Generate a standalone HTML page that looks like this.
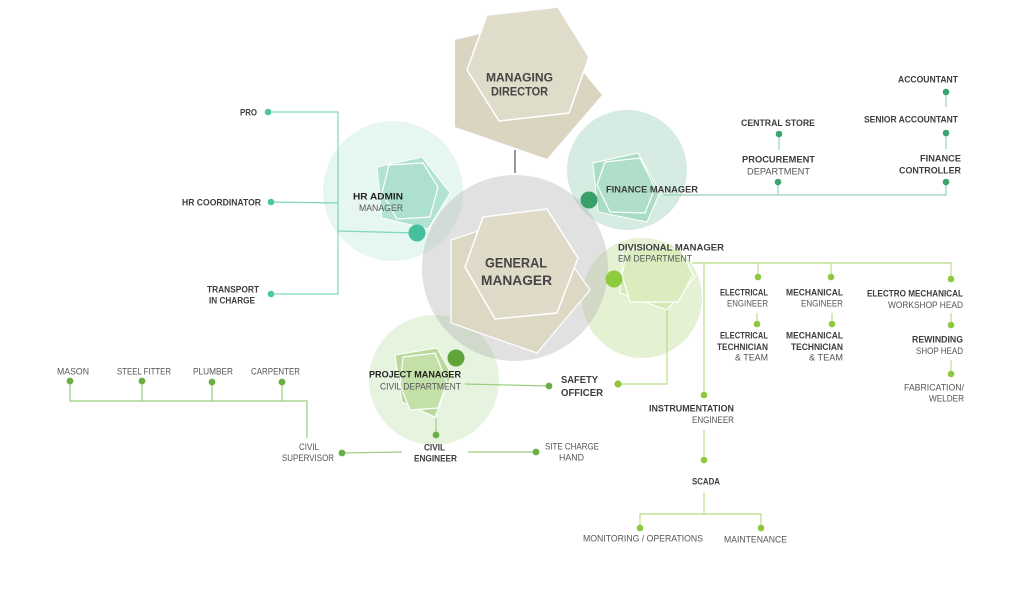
<!DOCTYPE html>
<html>
<head>
<meta charset="utf-8">
<style>
html,body{margin:0;padding:0;background:#fff;}
svg{display:block;}
text{font-family:"Liberation Sans",sans-serif;}
.b{font-weight:bold;fill:#3d3d3d;font-size:9px;}
.r{fill:#555;font-size:9px;}
</style>
</head>
<body>
<svg width="1024" height="590" viewBox="0 0 1024 590" xmlns="http://www.w3.org/2000/svg">
<rect width="1024" height="590" fill="#fff"/>

<!-- circles -->
<circle cx="393" cy="191" r="70" fill="rgb(160,220,200)" fill-opacity="0.26"/>
<circle cx="627" cy="170" r="60" fill="rgb(120,190,155)" fill-opacity="0.3"/>
<circle cx="434" cy="380" r="65" fill="rgb(160,210,130)" fill-opacity="0.26"/>
<circle cx="642" cy="298" r="60" fill="rgb(170,210,110)" fill-opacity="0.3"/>
<circle cx="515" cy="268" r="93" fill="rgb(175,175,175)" fill-opacity="0.38"/>

<!-- Managing Director -->
<polygon points="455,40 540,20 602,95 547,159 455,127" fill="#dad5c1"/>
<polygon points="487,15 558,7 589,57 569,113 499,121 467,70" fill="#e0dcca" stroke="#fff" stroke-width="1.5"/>
<line x1="515" y1="150" x2="515" y2="173" stroke="#555" stroke-width="1.2"/>

<!-- General Manager -->
<polygon points="451,240 535,212 590,290 537,353 451,323" fill="#dcd8c4" stroke="#fff" stroke-width="1.2"/>
<polygon points="483,217 547,209 578,258 557,313 495,319 465,267" fill="#dfdbc8" stroke="#fff" stroke-width="1.5"/>

<!-- HR hex -->
<polygon points="377,167 422,157 450,193 428,229 382,218" fill="#b1e3d3" stroke="#fff" stroke-width="1"/>
<polygon points="389,165 423,163 438,187 430,217 397,219 382,193" fill="#ade0cf" stroke="#fff" stroke-width="1.2"/>

<!-- Finance hex -->
<polygon points="593,163 638,153 660,192 647,222 598,212" fill="#a9dcc4" stroke="#fff" stroke-width="1"/>
<polygon points="605,162 640,158 655,188 645,213 610,212 597,185" fill="#b0dfc9" stroke="#fff" stroke-width="1.2"/>

<!-- Divisional hex -->
<polygon points="623,250 672,244 695,277 667,310 620,293" fill="#d6eab3" stroke="#fff" stroke-width="1"/>
<polygon points="627,250 680,248 693,275 678,302 630,302 622,275" fill="#dbecbe" stroke="#fff" stroke-width="1.2"/>

<!-- Project hex -->
<polygon points="395,355 437,348 452,375 435,417 402,402" fill="#b8d99a" stroke="#fff" stroke-width="1"/>
<polygon points="403,357 435,353 447,382 438,408 410,410 400,385" fill="#c3e0a8" stroke="#fff" stroke-width="1.2"/>

<!-- HR lines -->
<g stroke="#80d6be" stroke-width="1.2" fill="none">
<polyline points="268,112 338,112 338,294 271,294"/>
<line x1="271" y1="202" x2="338" y2="203"/>
<line x1="338" y1="231" x2="417" y2="233"/>
</g>
<g fill="#4fc6a0">
<circle cx="268" cy="112" r="3.3"/>
<circle cx="271" cy="202" r="3.3"/>
<circle cx="271" cy="294" r="3.3"/>
</g>
<circle cx="417" cy="233" r="8.5" fill="#45bf9c"/>

<!-- Finance lines -->
<g stroke="#95d4b4" stroke-width="1.2" fill="none">
<polyline points="663,195 946,195 946,182"/>
<line x1="778" y1="195" x2="778" y2="182"/>
<line x1="779" y1="134" x2="779" y2="150"/>
<line x1="946" y1="133" x2="946" y2="149"/>
<line x1="946" y1="92" x2="946" y2="107"/>
</g>
<g fill="#3aa56e">
<circle cx="778" cy="182" r="3.3"/>
<circle cx="946" cy="182" r="3.3"/>
<circle cx="779" cy="134" r="3.3"/>
<circle cx="946" cy="133" r="3.3"/>
<circle cx="946" cy="92" r="3.3"/>
</g>
<circle cx="589" cy="200" r="8.5" fill="#3a9e69"/>

<!-- Divisional lines -->
<g stroke="#b6de84" stroke-width="1.2" fill="none">
<line x1="692" y1="263" x2="952" y2="263"/>
<line x1="704" y1="263" x2="704" y2="395"/>
<line x1="758" y1="263" x2="758" y2="277"/>
<line x1="831" y1="263" x2="831" y2="277"/>
<line x1="951" y1="263" x2="951" y2="279"/>
<line x1="757" y1="313" x2="757" y2="324"/>
<line x1="832" y1="313" x2="832" y2="324"/>
<line x1="951" y1="313" x2="951" y2="325"/>
<line x1="951" y1="360" x2="951" y2="374"/>
<line x1="704" y1="430" x2="704" y2="460"/>
<line x1="704" y1="493" x2="704" y2="514"/>
<polyline points="640,528 640,514 761,514 761,528"/>
<polyline points="667,310 667,384 618,384"/>
</g>
<g fill="#8dc83f">
<circle cx="704" cy="395" r="3.3"/>
<circle cx="758" cy="277" r="3.3"/>
<circle cx="831" cy="277" r="3.3"/>
<circle cx="951" cy="279" r="3.3"/>
<circle cx="757" cy="324" r="3.3"/>
<circle cx="832" cy="324" r="3.3"/>
<circle cx="951" cy="325" r="3.3"/>
<circle cx="951" cy="374" r="3.3"/>
<circle cx="704" cy="460" r="3.3"/>
<circle cx="640" cy="528" r="3.3"/>
<circle cx="761" cy="528" r="3.3"/>
<circle cx="618" cy="384" r="3.6"/>
</g>
<circle cx="614" cy="279" r="8.5" fill="#8fcb3e"/>

<!-- Project lines -->
<g stroke="#9acd7c" stroke-width="1.2" fill="none">
<line x1="465" y1="384" x2="549" y2="386"/>
<line x1="436" y1="418" x2="436" y2="435"/>
<line x1="402" y1="452" x2="342" y2="453"/>
<line x1="468" y1="452" x2="536" y2="452"/>
<polyline points="70,381 70,401 307,401 307,438"/>
<line x1="142" y1="381" x2="142" y2="401"/>
<line x1="212" y1="382" x2="212" y2="401"/>
<line x1="282" y1="382" x2="282" y2="401"/>
</g>
<g fill="#6aae46">
<circle cx="549" cy="386" r="3.4"/>
<circle cx="436" cy="435" r="3.4"/>
<circle cx="342" cy="453" r="3.4"/>
<circle cx="536" cy="452" r="3.4"/>
<circle cx="70" cy="381" r="3.4"/>
<circle cx="142" cy="381" r="3.4"/>
<circle cx="212" cy="382" r="3.4"/>
<circle cx="282" cy="382" r="3.4"/>
</g>
<circle cx="456" cy="358" r="8.5" fill="#5fa53a"/>

<!-- Main labels -->
<text x="486" y="81.5" font-size="12" font-weight="bold" fill="#444" textLength="67" lengthAdjust="spacingAndGlyphs">MANAGING</text>
<text x="491" y="95.5" font-size="12" font-weight="bold" fill="#444" textLength="57" lengthAdjust="spacingAndGlyphs">DIRECTOR</text>
<text x="485" y="267.5" font-size="13.5" font-weight="bold" fill="#444" textLength="62" lengthAdjust="spacingAndGlyphs">GENERAL</text>
<text x="481" y="285" font-size="13.5" font-weight="bold" fill="#444" textLength="71" lengthAdjust="spacingAndGlyphs">MANAGER</text>

<text class="b" x="353" y="199.5" font-size="9.5" textLength="50" lengthAdjust="spacingAndGlyphs" style="fill:#222">HR ADMIN</text>
<text class="r" x="359" y="211" textLength="44" lengthAdjust="spacingAndGlyphs">MANAGER</text>
<text class="b" x="606" y="192.5" textLength="92" lengthAdjust="spacingAndGlyphs">FINANCE MANAGER</text>
<text class="b" x="618" y="250.5" textLength="106" lengthAdjust="spacingAndGlyphs">DIVISIONAL MANAGER</text>
<text class="r" x="618" y="261.5" textLength="74" lengthAdjust="spacingAndGlyphs">EM DEPARTMENT</text>
<text class="b" x="369" y="377.5" textLength="92" lengthAdjust="spacingAndGlyphs" style="fill:#222">PROJECT MANAGER</text>
<text class="r" x="380" y="389.5" textLength="81" lengthAdjust="spacingAndGlyphs">CIVIL DEPARTMENT</text>
<text class="b" x="561" y="383" font-size="10.5" style="font-size:10.5px" textLength="37" lengthAdjust="spacingAndGlyphs">SAFETY</text>
<text class="b" x="561" y="396" style="font-size:10.5px" textLength="42" lengthAdjust="spacingAndGlyphs">OFFICER</text>

<!-- HR branch -->
<text class="b" x="240" y="115.5" textLength="17" lengthAdjust="spacingAndGlyphs">PRO</text>
<text class="b" x="182" y="205.5" textLength="79" lengthAdjust="spacingAndGlyphs">HR COORDINATOR</text>
<text class="b" x="207" y="292.5" textLength="52" lengthAdjust="spacingAndGlyphs">TRANSPORT</text>
<text class="b" x="209" y="303.5" textLength="46" lengthAdjust="spacingAndGlyphs">IN CHARGE</text>

<!-- Finance branch -->
<text class="b" x="898" y="82.5" textLength="60" lengthAdjust="spacingAndGlyphs">ACCOUNTANT</text>
<text class="b" x="864" y="122.5" textLength="94" lengthAdjust="spacingAndGlyphs">SENIOR ACCOUNTANT</text>
<text class="b" x="920" y="161.5" textLength="41" lengthAdjust="spacingAndGlyphs">FINANCE</text>
<text class="b" x="899" y="173.5" textLength="62" lengthAdjust="spacingAndGlyphs">CONTROLLER</text>
<text class="b" x="741" y="126" textLength="74" lengthAdjust="spacingAndGlyphs">CENTRAL STORE</text>
<text class="b" x="742" y="162.5" textLength="73" lengthAdjust="spacingAndGlyphs">PROCUREMENT</text>
<text class="r" x="747" y="174.5" textLength="63" lengthAdjust="spacingAndGlyphs">DEPARTMENT</text>

<!-- Divisional branch -->
<text class="b" x="720" y="295.5" textLength="48" lengthAdjust="spacingAndGlyphs">ELECTRICAL</text>
<text class="r" x="727" y="306.5" textLength="41" lengthAdjust="spacingAndGlyphs">ENGINEER</text>
<text class="b" x="720" y="338.5" textLength="48" lengthAdjust="spacingAndGlyphs">ELECTRICAL</text>
<text class="b" x="717" y="350" textLength="51" lengthAdjust="spacingAndGlyphs">TECHNICIAN</text>
<text class="r" x="735" y="360.5" textLength="33" lengthAdjust="spacingAndGlyphs">&amp; TEAM</text>
<text class="b" x="786" y="295.5" textLength="57" lengthAdjust="spacingAndGlyphs">MECHANICAL</text>
<text class="r" x="801" y="306.5" textLength="42" lengthAdjust="spacingAndGlyphs">ENGINEER</text>
<text class="b" x="786" y="338.5" textLength="57" lengthAdjust="spacingAndGlyphs">MECHANICAL</text>
<text class="b" x="791" y="350" textLength="52" lengthAdjust="spacingAndGlyphs">TECHNICIAN</text>
<text class="r" x="809" y="360.5" textLength="34" lengthAdjust="spacingAndGlyphs">&amp; TEAM</text>
<text class="b" x="867" y="296.5" textLength="96" lengthAdjust="spacingAndGlyphs">ELECTRO MECHANICAL</text>
<text class="r" x="888" y="308" textLength="75" lengthAdjust="spacingAndGlyphs">WORKSHOP HEAD</text>
<text class="b" x="912" y="342.5" textLength="51" lengthAdjust="spacingAndGlyphs">REWINDING</text>
<text class="r" x="916" y="354" textLength="47" lengthAdjust="spacingAndGlyphs">SHOP HEAD</text>
<text class="r" x="904" y="390.5" textLength="60" lengthAdjust="spacingAndGlyphs">FABRICATION/</text>
<text class="r" x="929" y="401.5" textLength="35" lengthAdjust="spacingAndGlyphs">WELDER</text>
<text class="b" x="649" y="411.5" textLength="85" lengthAdjust="spacingAndGlyphs">INSTRUMENTATION</text>
<text class="r" x="692" y="423" textLength="42" lengthAdjust="spacingAndGlyphs">ENGINEER</text>
<text class="b" x="692" y="484.5" textLength="28" lengthAdjust="spacingAndGlyphs">SCADA</text>
<text class="r" x="583" y="541.5" textLength="120" lengthAdjust="spacingAndGlyphs">MONITORING / OPERATIONS</text>
<text class="r" x="724" y="542.5" textLength="63" lengthAdjust="spacingAndGlyphs">MAINTENANCE</text>

<!-- Project branch -->
<text class="r" x="57" y="374.5" textLength="32" lengthAdjust="spacingAndGlyphs">MASON</text>
<text class="r" x="117" y="374.5" textLength="54" lengthAdjust="spacingAndGlyphs">STEEL FITTER</text>
<text class="r" x="193" y="374.5" textLength="40" lengthAdjust="spacingAndGlyphs">PLUMBER</text>
<text class="r" x="251" y="374.5" textLength="49" lengthAdjust="spacingAndGlyphs">CARPENTER</text>
<text class="b" x="424" y="450.5" textLength="21" lengthAdjust="spacingAndGlyphs">CIVIL</text>
<text class="b" x="414" y="461.5" textLength="43" lengthAdjust="spacingAndGlyphs">ENGINEER</text>
<text class="r" x="299" y="450" textLength="20" lengthAdjust="spacingAndGlyphs">CIVIL</text>
<text class="r" x="282" y="461" textLength="52" lengthAdjust="spacingAndGlyphs">SUPERVISOR</text>
<text class="r" x="545" y="449.5" textLength="54" lengthAdjust="spacingAndGlyphs">SITE CHARGE</text>
<text class="r" x="559" y="460.5" textLength="25" lengthAdjust="spacingAndGlyphs">HAND</text>
</svg>
</body>
</html>
